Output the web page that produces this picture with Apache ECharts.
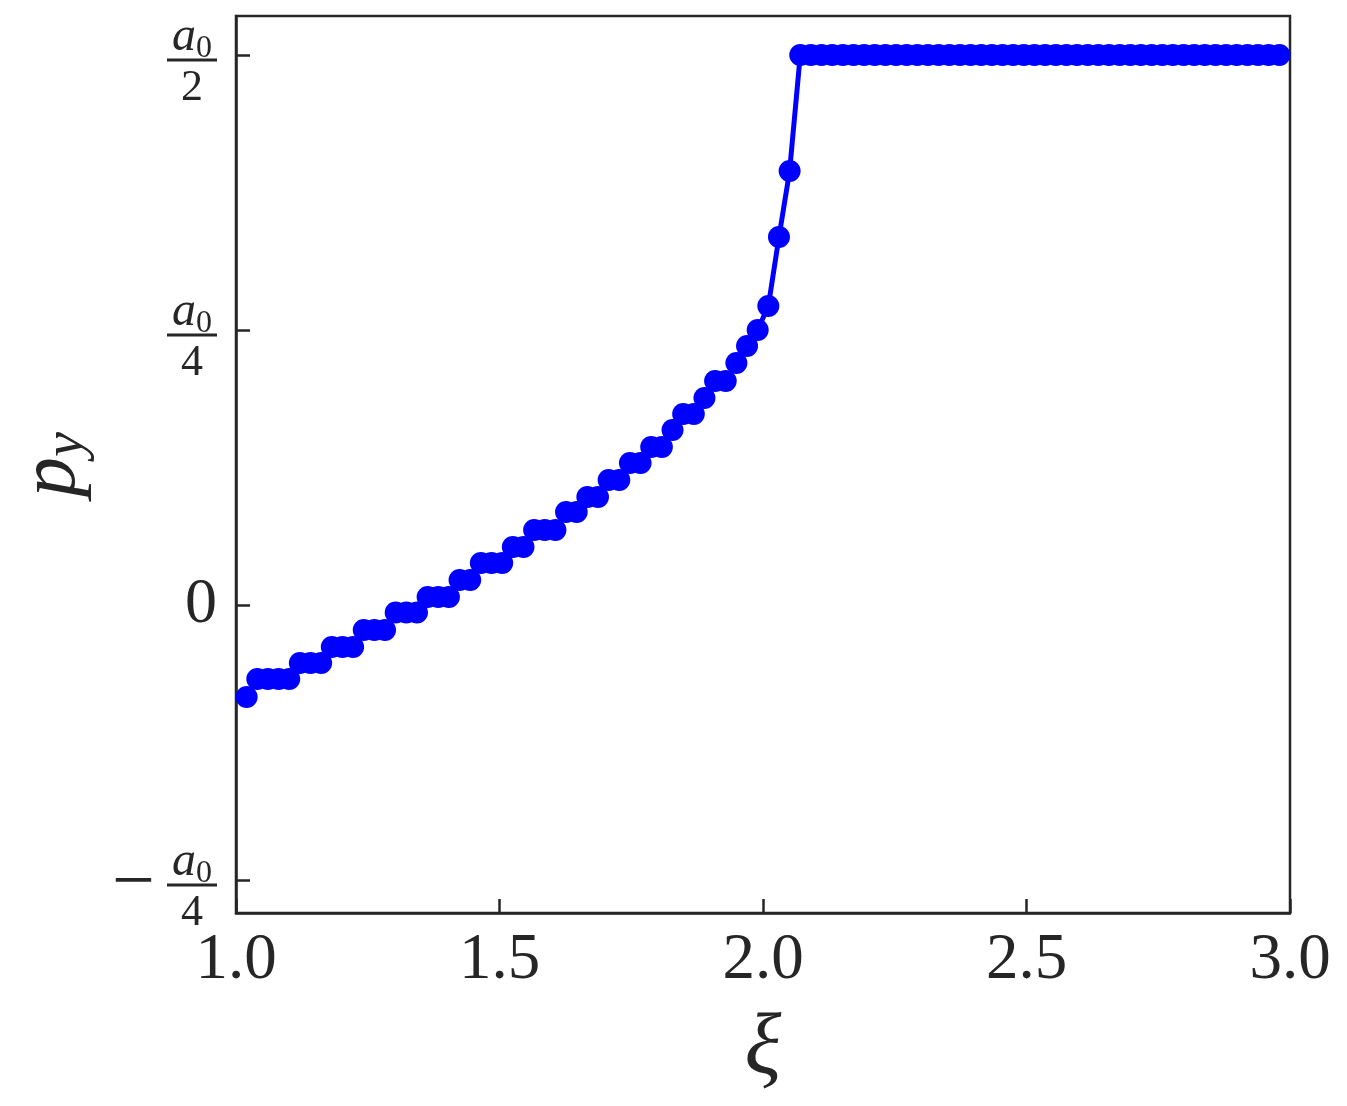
<!DOCTYPE html>
<html><head><meta charset="utf-8">
<script src="https://cdn.jsdelivr.net/npm/echarts@6/dist/echarts.min.js"></script>
<style>html,body{margin:0;padding:0;background:#fff}#c{width:1347px;height:1106px}</style>
</head><body><div id="c"></div>
<script>
// xi sample positions (grid of the computation)
const xiValues = [1.0202,1.0404,1.0606,1.0808,1.1010,1.1212,1.1414,1.1616,1.1818,1.2020,
1.2222,1.2424,1.2626,1.2828,1.3030,1.3232,1.3434,1.3636,1.3838,1.4040,
1.4242,1.4444,1.4646,1.4848,1.5051,1.5253,1.5455,1.5657,1.5859,1.6061,
1.6263,1.6465,1.6667,1.6869,1.7071,1.7273,1.7475,1.7677,1.7879,1.8081,
1.8283,1.8485,1.8687,1.8889,1.9091,1.9293,1.9495,1.9697,1.9899,2.0101,
2.0303,2.0505,2.0707,2.0909,2.1111,2.1313,2.1515,2.1717,2.1919,2.2121,
2.2323,2.2525,2.2727,2.2929,2.3131,2.3333,2.3535,2.3737,2.3939,2.4141,
2.4343,2.4545,2.4747,2.4949,2.5152,2.5354,2.5556,2.5758,2.5960,2.6162,
2.6364,2.6566,2.6768,2.6970,2.7172,2.7374,2.7576,2.7778,2.7980,2.8182,
2.8384,2.8586,2.8788,2.8990,2.9192,2.9394,2.9596,2.9798];
// p_y in units of a0
const pyValues = [-0.0836,
-0.0673,-0.0673,-0.0673,-0.0673,
-0.0527,-0.0527,-0.0527,
-0.0382,-0.0382,-0.0382,
-0.0227,-0.0227,-0.0227,
-0.0068,-0.0068,-0.0068,
0.0073,0.0073,0.0073,
0.0227,0.0227,
0.0382,0.0382,0.0382,
0.0527,0.0527,
0.0682,0.0682,0.0682,
0.0845,0.0845,
0.0982,0.0982,
0.1136,0.1136,
0.1291,0.1291,
0.1436,0.1436,
0.1591,
0.1736,0.1736,
0.1882,
0.2036,0.2036,
0.2200,
0.2355,
0.2500,
0.2718,
0.3345,
0.3945,
0.5,0.5,0.5,0.5,0.5,0.5,0.5,0.5,0.5,0.5,
0.5,0.5,0.5,0.5,0.5,0.5,0.5,0.5,0.5,0.5,
0.5,0.5,0.5,0.5,0.5,0.5,0.5,0.5,0.5,0.5,
0.5,0.5,0.5,0.5,0.5,0.5,0.5,0.5,0.5,0.5,
0.5,0.5,0.5,0.5,0.5,0.5];
const xTickValues = [1.0, 1.5, 2.0, 2.5, 3.0];
const yTickValues = [-0.25, 0, 0.25, 0.5];
const yTickLabels = [
  '{sp| }{a|a}{s|0}\n{m|−}{b| }\n{sp| }{d|4}',
  '{z|0}',
  '{a|a}{s|0}\n{b| }\n{d|4}',
  '{a|a}{s|0}\n{b| }\n{d|2}'
];
const xName = 'ξ';
const yName = '{p|p}{s|y}';

const ink = '#262626';
const serif = 'Liberation Serif';
const chart = echarts.init(document.getElementById('c'), null, {renderer: 'canvas'});
const data = xiValues.map((x, i) => [x, pyValues[i]]);
chart.setOption({
  animation: false,
  backgroundColor: '#fff',
  grid: {left: 236, right: 57, top: 16, bottom: 193, show: true, borderColor: ink, borderWidth: 2.5,
         backgroundColor: 'transparent', containLabel: false, outerBoundsMode: 'none'},
  xAxis: {
    type: 'value', min: 1, max: 3, interval: 0.5,
    axisLine: {show: true, onZero: false, lineStyle: {color: ink, width: 2.5}},
    axisTick: {show: true, inside: true, length: 14, lineStyle: {color: ink, width: 2.5}},
    splitLine: {show: false},
    axisLabel: {
      margin: 15, color: ink, fontFamily: serif, fontSize: 65,
      formatter: v => { const k = xTickValues.findIndex(t => Math.abs(t - v) < 1e-9); return k < 0 ? '' : xTickValues[k].toFixed(1); }
    },
    name: xName, nameLocation: 'middle', nameGap: 94,
    nameTextStyle: {color: ink, fontFamily: serif, fontSize: 86, fontStyle: 'italic'}
  },
  yAxis: {
    type: 'value', min: -0.28, max: 0.5355,
    axisLine: {show: true, onZero: false, lineStyle: {color: ink, width: 2.5}},
    axisTick: {show: true, inside: true, length: 14, lineStyle: {color: ink, width: 2.5}, customValues: yTickValues},
    splitLine: {show: false},
    axisLabel: {
      margin: 19, color: ink, fontFamily: serif,
      customValues: yTickValues,
      formatter: v => { const k = yTickValues.findIndex(t => Math.abs(t - v) < 1e-9); return k < 0 ? '' : yTickLabels[k]; },
      rich: {
        a: {fontFamily: serif, fontSize: 48, fontStyle: 'italic', color: ink, lineHeight: 62, padding: [20, 0, 0, 0], align: 'center'},
        s: {fontFamily: serif, fontSize: 32, color: ink, lineHeight: 62, padding: [44, 0, 0, 0], align: 'center'},
        b: {width: 50, height: 3, lineHeight: 4, backgroundColor: ink, align: 'center', fontSize: 4},
        d: {fontFamily: serif, fontSize: 44, color: ink, lineHeight: 52, align: 'center'},
        m: {fontFamily: serif, fontSize: 76, color: ink, lineHeight: 4, width: 55, align: 'left'},
        sp: {width: 55, lineHeight: 4, fontSize: 4, align: 'left'},
        z: {fontFamily: serif, fontSize: 64, color: ink, lineHeight: 64}
      }
    },
    name: yName, nameLocation: 'middle', nameGap: 138, nameRotate: 90,
    nameTextStyle: {
      color: ink, fontFamily: serif,
      rich: {
        p: {fontFamily: serif, fontSize: 80, fontStyle: 'italic', color: ink, lineHeight: 90},
        s: {fontFamily: serif, fontSize: 56, fontStyle: 'italic', color: ink, lineHeight: 90, padding: [28, 0, 0, 0]}
      }
    }
  },
  series: [{
    type: 'line', data: data, showAllSymbol: true,
    symbol: 'circle', symbolSize: 22,
    lineStyle: {color: '#0000ff', width: 5},
    itemStyle: {color: '#0000ff'},
    clip: true, z: 3
  }]
});
</script>
</body></html>
